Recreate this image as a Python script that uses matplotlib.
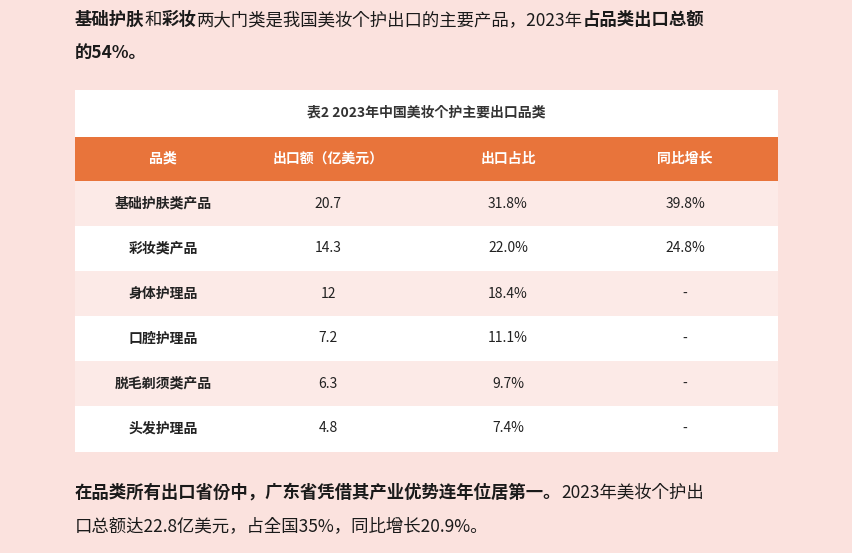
import matplotlib
matplotlib.use("Agg")
import matplotlib.pyplot as plt
from matplotlib.patches import Rectangle

plt.rcParams["font.family"] = ["Noto Sans CJK SC", "Noto Sans CJK JP", "Noto Sans CJK TC", "Noto Sans CJK KR", "DejaVu Sans"]

title = "表2 2023年中国美妆个护主要出口品类"
headers = ["品类", "出口额（亿美元）", "出口占比", "同比增长"]
categories = ["基础护肤类产品", "彩妆类产品", "身体护理品", "口腔护理品", "脱毛剃须类产品", "头发护理品"]
export_values = ["20.7", "14.3", "12", "7.2", "6.3", "4.8"]
shares = ["31.8%", "22.0%", "18.4%", "11.1%", "9.7%", "7.4%"]
growth = ["39.8%", "24.8%", "-", "-", "-", "-"]

top_lines = [
    [("基础护肤", True), ("和", False), ("彩妆", True), ("两大门类是我国美妆个护出口的主要产品，2023年", False), ("占品类出口总额", True)],
    [("的54%。", True)],
]
bottom_lines = [
    [("在品类所有出口省份中，广东省凭借其产业优势连年位居第一。", True), ("2023年美妆个护出", False)],
    [("口总额达22.8亿美元，占全国35%，同比增长20.9%。", False)],
]

fig = plt.figure(figsize=(8.52, 5.53), dpi=100)
fig.patch.set_facecolor("#FBE2DE")
ax = fig.add_axes([0, 0, 1, 1])
ax.set_xlim(0, 852); ax.set_ylim(553, 0); ax.axis("off")
renderer = fig.canvas.get_renderer()

def draw_line(segs, x, y, size=12.5):
    for txt, bold in segs:
        t = ax.text(x, y, txt, fontsize=size, fontweight="bold" if bold else "normal",
                    color="#1a1a1a", va="center", ha="left")
        bb = t.get_window_extent(renderer)
        x += bb.width

draw_line(top_lines[0], 75, 20)
draw_line(top_lines[1], 75, 53)
draw_line(bottom_lines[0], 75, 493)
draw_line(bottom_lines[1], 75, 526)

L, R = 75, 778
ax.add_patch(Rectangle((L, 90), R - L, 362, facecolor="white", edgecolor="none"))
ax.text((L + R) / 2, 113, title, fontsize=10, fontweight="bold", color="#333333", ha="center", va="center")
ax.add_patch(Rectangle((L, 137), R - L, 44, facecolor="#E8743B", edgecolor="none"))
col_x = [163, 328, 508, 685]
for cx, h in zip(col_x, headers):
    ax.text(cx, 159, h, fontsize=10, fontweight="bold", color="white", ha="center", va="center")
row_h = 45
for i in range(len(categories)):
    y0 = 181 + i * row_h
    if i % 2 == 0:
        ax.add_patch(Rectangle((L, y0), R - L, row_h, facecolor="#FCEAE7", edgecolor="none"))
    yc = y0 + row_h / 2
    vals = [categories[i], export_values[i], shares[i], growth[i]]
    for j, (cx, v) in enumerate(zip(col_x, vals)):
        ax.text(cx, yc, v, fontsize=10, fontweight="bold" if j == 0 else "normal",
                color="#222222", ha="center", va="center")

fig.savefig("out.png", dpi=100, facecolor=fig.get_facecolor())
